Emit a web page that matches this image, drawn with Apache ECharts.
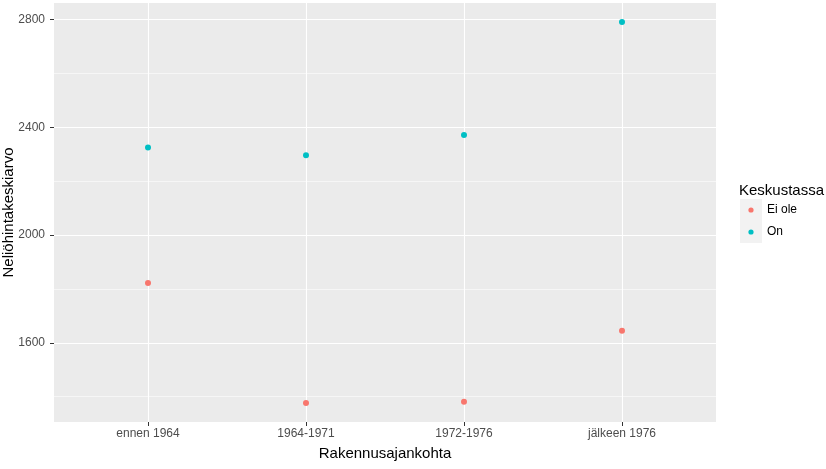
<!DOCTYPE html>
<html>
<head>
<meta charset="utf-8">
<script src="https://cdn.jsdelivr.net/npm/echarts@6/dist/echarts.min.js"></script>
<style>
  html, body { margin: 0; padding: 0; background: #fff; }
  #chart { width: 826px; height: 469px; }
</style>
</head>
<body>
<div id="chart"></div>
<script>
var categories = ['ennen 1964', '1964-1971', '1972-1976', 'jälkeen 1976']
var eiOle = [1822, 1377, 1381, 1645]
var on = [2325, 2297, 2372, 2791]
var majorTicks = [1600, 2000, 2400, 2800]
var minorTicks = [1400, 1800, 2200, 2600]
var yMin = 1306
var yMax = 2862

var colEi = '#F8766D'
var colOn = '#00BFC4'

function keyIcon (color) {
  var svg = '<svg xmlns="http://www.w3.org/2000/svg" width="22" height="22">' +
    '<rect x="0" y="0" width="22" height="22" fill="#F2F2F2"/>' +
    '<circle cx="11" cy="11" r="2.6" fill="' + color + '"/></svg>'
  return 'image://data:image/svg+xml;charset=utf-8,' + encodeURIComponent(svg)
}

var chart = echarts.init(document.getElementById('chart'))
chart.setOption({
  animation: false,
  textStyle: { fontFamily: 'Liberation Sans, Arial, sans-serif' },
  title: {
    text: 'Keskustassa',
    left: 734,
    top: 178,
    textStyle: { fontSize: 15, fontWeight: 'normal', color: '#000' }
  },
  legend: {
    orient: 'vertical',
    left: 740,
    top: 199,
    padding: 0,
    itemGap: 0,
    itemWidth: 22,
    itemHeight: 22,
    textStyle: { fontSize: 12, color: '#000' },
    data: [
      { name: 'Ei ole', icon: keyIcon(colEi) },
      { name: 'On', icon: keyIcon(colOn) }
    ]
  },
  grid: [
    { left: 54, right: 110, top: 3, bottom: 47, show: true, backgroundColor: '#EBEBEB', borderWidth: 0, containLabel: false, outerBoundsMode: 'none' },
    { left: 148, right: 204, top: 3, bottom: 47, show: false, containLabel: false, outerBoundsMode: 'none' }
  ],
  xAxis: [
    { gridIndex: 0, type: 'value', show: false, min: 0, max: 1 },
    {
      gridIndex: 1,
      type: 'category',
      boundaryGap: false,
      data: categories,
      name: 'Rakennusajankohta',
      nameLocation: 'middle',
      nameGap: 24,
      nameTextStyle: { fontSize: 15, color: '#000' },
      axisLine: { show: false },
      axisTick: { show: true, length: 4, lineStyle: { color: '#333', width: 1 } },
      axisLabel: { margin: 6, fontSize: 12, color: '#4D4D4D' },
      splitLine: { show: true, lineStyle: { color: '#fff', width: 1.1 } }
    }
  ],
  yAxis: [
    {
      gridIndex: 0,
      type: 'value',
      min: yMin,
      max: yMax,
      name: 'Neliöhintakeskiarvo',
      nameLocation: 'middle',
      nameGap: 38,
      nameMoveOverlap: false,
      nameTextStyle: { fontSize: 15, color: '#000' },
      axisLine: { show: false },
      axisTick: { show: true, length: 4, customValues: majorTicks, lineStyle: { color: '#333', width: 1 } },
      axisLabel: {
        margin: 9,
        fontSize: 12,
        color: '#4D4D4D',
        customValues: majorTicks,
        formatter: function (v) { return String(v) }
      },
      splitLine: { show: true, lineStyle: { color: '#fff', width: 1.1 } }
    },
    {
      gridIndex: 0,
      type: 'value',
      min: yMin,
      max: yMax,
      position: 'right',
      axisLine: { show: false },
      axisTick: { show: false, customValues: minorTicks },
      axisLabel: { show: false, customValues: minorTicks },
      splitLine: { show: true, lineStyle: { color: '#fff', width: 0.55 } }
    },
    { gridIndex: 1, type: 'value', min: yMin, max: yMax, show: false }
  ],
  series: [
    {
      name: 'Ei ole',
      type: 'scatter',
      xAxisIndex: 1,
      yAxisIndex: 2,
      symbolSize: 6,
      itemStyle: { color: colEi, opacity: 1 },
      data: eiOle
    },
    {
      name: 'On',
      type: 'scatter',
      xAxisIndex: 1,
      yAxisIndex: 2,
      symbolSize: 6,
      itemStyle: { color: colOn, opacity: 1 },
      data: on
    }
  ]
})
</script>
</body>
</html>
